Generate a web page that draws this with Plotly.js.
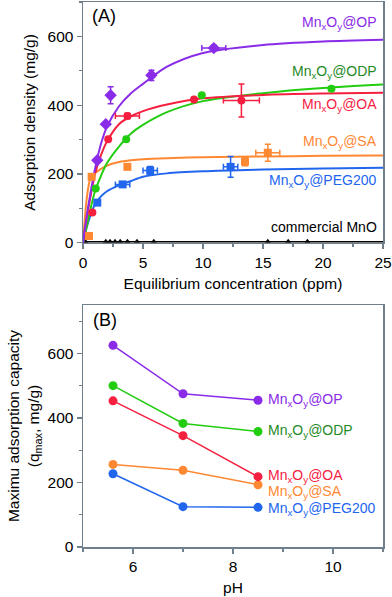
<!DOCTYPE html>
<html>
<head>
<meta charset="utf-8">
<script src="https://cdn.plot.ly/plotly-3.0.1.min.js"></script>
<style>html,body{margin:0;padding:0;background:#fff;}#chart{width:392px;height:597px;}</style>
</head>
<body>
<div id="chart"></div>
<script>
// ---------- Panel A: adsorption isotherms ----------
const fitX = [0, 0.3, 0.6, 1, 1.5, 2, 3, 4, 5, 7, 10, 15, 20, 25];
const fitOP  = [0, 76, 140, 215, 288, 338, 397, 435, 462, 512, 552, 575, 585, 590];
const fitOA  = [0, 70, 130, 200, 255, 295, 345, 368, 383, 402, 420, 430, 434, 436];
const fitODP = [0, 45, 95, 150, 195, 232, 280, 318, 343, 380, 412, 435, 450, 460];
const fitSA  = [0, 125, 185, 203, 215, 225, 235, 240, 243, 246, 249, 251, 253, 254];
const fitPEG = [0, 45, 78, 112, 135, 150, 167, 180, 192, 202, 208, 213, 216, 218];

const opX = [1.19, 1.9, 2.3, 5.7, 10.9];
const opY = [240, 345, 429, 487, 566];
const opEX = [0, 0, 0, 0, 1.0];
const opEY = [0, 0, 25, 15, 8];

const oaX = [0.78, 2.1, 3.7, 9.25, 13.2];
const oaY = [88, 301, 369, 417, 414];
const oaEX = [0, 0, 1.0, 0, 1.5];
const oaEY = [0, 0, 8, 5, 48];

const odpX = [1.06, 3.6, 9.9, 20.7];
const odpY = [158, 301, 429, 448];

const saX = [0.5, 0.72, 3.7, 13.5, 15.4];
const saY = [20, 192, 221, 236, 262];
const saEX = [0, 0, 0, 0, 1.0];
const saEY = [0, 0, 8, 12, 25];

const pegX = [1.19, 3.3, 5.6, 12.3];
const pegY = [117, 170, 210, 221];
const pegEX = [0, 0.6, 0.6, 0.6];
const pegEY = [6, 6, 12, 30];

const mnoLineX = [0, 25];
const mnoLineY = [3, 3];
const mnoX = [0.2, 1.9, 2.25, 2.67, 3.1, 3.7, 4.5, 5.9, 15.4, 17.1, 18.7];
const mnoY = [5, 5, 5, 5, 5, 5, 5, 5, 5, 5, 5];

// ---------- Panel B: qmax vs pH ----------
const pH = [5.6, 7, 8.5];
const qOP  = [625, 475, 455];
const qODP = [500, 383, 358];
const qOA  = [453, 345, 218];
const qSA  = [256, 238, 193];
const qPEG = [227, 125, 123];

const labels = ['Mn<sub>x</sub>O<sub>y</sub>@OP', 'Mn<sub>x</sub>O<sub>y</sub>@ODP', 'Mn<sub>x</sub>O<sub>y</sub>@OA',
                'Mn<sub>x</sub>O<sub>y</sub>@SA', 'Mn<sub>x</sub>O<sub>y</sub>@PEG200', 'commercial MnO'];

const cOP = '#8a2be8', cODP = '#22cc11', cODPtext = '#1f8a1f', cOA = '#f5203f', cSA = '#ff8833', cPEG = '#2266ee', cMnO = '#000000';

function fit(y, c){ return {x: fitX, y: y, mode: 'lines', line: {color: c, width: 2, shape: 'spline', smoothing: 0.8}, xaxis: 'x', yaxis: 'y', hoverinfo: 'skip'}; }
function pts(x, y, c, sym, ex, ey, sz){
  const t = {x: x, y: y, mode: 'markers', marker: {color: c, size: sz || 8, symbol: sym}, xaxis: 'x', yaxis: 'y'};
  if (ex) t.error_x = {type: 'data', array: ex, visible: true, color: c, thickness: 1.5, width: 3};
  if (ey) t.error_y = {type: 'data', array: ey, visible: true, color: c, thickness: 1.5, width: 3};
  return t;
}
function ph(y, c){ return {x: pH, y: y, mode: 'lines+markers', line: {color: c, width: 1.5}, marker: {color: c, size: 9}, xaxis: 'x2', yaxis: 'y2'}; }

const data = [
  {x: mnoLineX, y: mnoLineY, mode: 'lines', line: {color: cMnO, width: 1.5}, xaxis: 'x', yaxis: 'y'},
  {x: mnoX, y: mnoY, mode: 'markers', marker: {color: cMnO, size: 5, symbol: 'triangle-up'}, xaxis: 'x', yaxis: 'y'},
  fit(fitPEG, cPEG), fit(fitSA, cSA), fit(fitODP, cODP), fit(fitOA, cOA), fit(fitOP, cOP),
  pts(pegX, pegY, cPEG, 'square', pegEX, pegEY),
  pts(saX, saY, cSA, 'square', saEX, saEY),
  pts(odpX, odpY, cODP, 'circle'),
  pts(oaX, oaY, cOA, 'circle', oaEX, oaEY),
  pts(opX, opY, cOP, 'diamond', opEX, opEY, 9.5),
  ph(qPEG, cPEG), ph(qSA, cSA), ph(qOA, cOA), ph(qODP, cODP), ph(qOP, cOP)
];

const font = {family: 'Liberation Sans, Arial, sans-serif', size: 15, color: '#000'};
const axisCommon = {showline: true, mirror: true, linecolor: '#6f7f8c', linewidth: 1.5, ticks: 'outside', ticklen: 5, tickwidth: 1.2,
  tickcolor: '#6f7f8c', showgrid: false, zeroline: false, tickfont: {size: 15.5, color: '#000'},
  minor: {ticks: 'outside', ticklen: 3, tickcolor: '#6f7f8c', showgrid: false}};

function ann(x, y, text, color, xref, yref, xanchor, size){
  return {x: x, y: y, xref: xref, yref: yref, text: text, showarrow: false, xanchor: xanchor, yanchor: 'middle', font: {size: size || 14, color: color}};
}

const layout = {
  width: 392, height: 597,
  margin: {l: 83, r: 9, t: 2, b: 50},
  paper_bgcolor: '#fff', plot_bgcolor: '#fff',
  font: font, showlegend: false,
  xaxis: Object.assign({}, axisCommon, {domain: [0, 1], range: [0, 25], dtick: 5, minor: Object.assign({}, axisCommon.minor, {dtick: 2.5}),
    anchor: 'y', title: {text: 'Equilibrium concentration (ppm)', font: {size: 15.5}, standoff: 8}}),
  yaxis: Object.assign({}, axisCommon, {domain: [0.558, 1], range: [0, 700], dtick: 200, minor: Object.assign({}, axisCommon.minor, {dtick: 100}),
    anchor: 'x', title: {text: 'Adsorption density (mg/g)', font: {size: 15.5}, standoff: 8}}),
  xaxis2: Object.assign({}, axisCommon, {domain: [0, 1], range: [5, 11], dtick: 2, minor: Object.assign({}, axisCommon.minor, {dtick: 1}),
    anchor: 'y2', title: {text: 'pH', font: {size: 15.5}, standoff: 8}}),
  yaxis2: Object.assign({}, axisCommon, {domain: [0, 0.444], range: [0, 750], dtick: 200, minor: Object.assign({}, axisCommon.minor, {dtick: 100}),
    anchor: 'x2', title: {text: 'Maximu adsorption capacity<br>(q<sub>max</sub>, mg/g)', font: {size: 15.5}, standoff: 4}}),
  annotations: [
    ann(0.6, 660, '(A)', '#000', 'x', 'y', 'left', 18),
    ann(24.7, 640, labels[0], cOP, 'x', 'y', 'right'),
    ann(24.7, 496, labels[1], cODPtext, 'x', 'y', 'right'),
    ann(24.7, 400, labels[2], cOA, 'x', 'y', 'right'),
    ann(24.7, 293, labels[3], cSA, 'x', 'y', 'right'),
    ann(24.7, 180, labels[4], cPEG, 'x', 'y', 'right'),
    ann(24.7, 45, labels[5], '#000', 'x', 'y', 'right'),
    ann(5.15, 705, '(B)', '#000', 'x2', 'y2', 'left', 18),
    ann(8.65, 455, labels[0], cOP, 'x2', 'y2', 'left'),
    ann(8.65, 358, labels[1], cODPtext, 'x2', 'y2', 'left'),
    ann(8.65, 220, labels[2], cOA, 'x2', 'y2', 'left'),
    ann(8.65, 170, labels[3], cSA, 'x2', 'y2', 'left'),
    ann(8.65, 118, labels[4], cPEG, 'x2', 'y2', 'left')
  ]
};

Plotly.newPlot('chart', data, layout, {displayModeBar: false, staticPlot: true});
</script>
</body>
</html>
